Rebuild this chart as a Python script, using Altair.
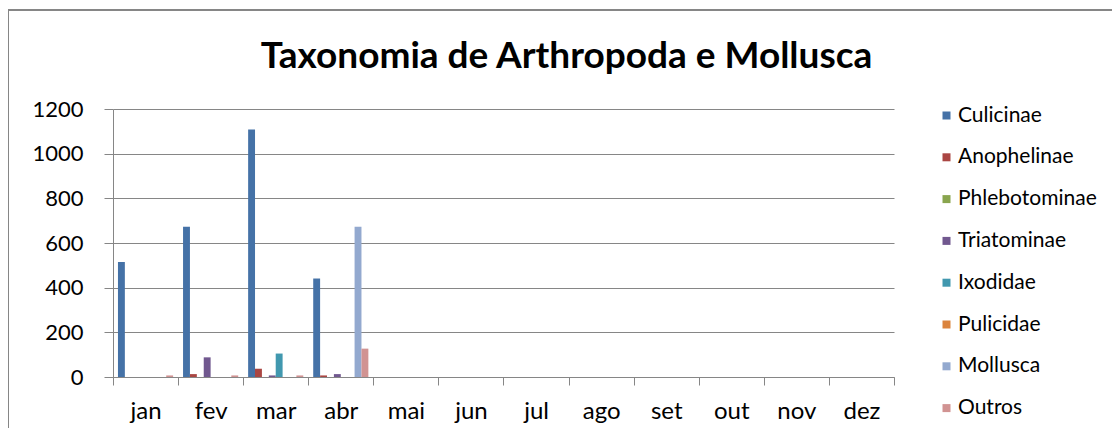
import altair as alt
import pandas as pd

months = ["jan", "fev", "mar", "abr", "mai", "jun", "jul", "ago", "set", "out", "nov", "dez"]
series = ["Culicinae", "Anophelinae", "Phlebotominae", "Triatominae",
          "Ixodidae", "Pulicidae", "Mollusca", "Outros"]
colors = ["#4572A7", "#AA4643", "#89A54E", "#71588F",
          "#4198AF", "#DB843D", "#93A9CF", "#D19392"]

culicinae = [515, 673, 1108, 441, 0, 0, 0, 0, 0, 0, 0, 0]
anophelinae = [0, 13, 37, 7, 0, 0, 0, 0, 0, 0, 0, 0]
phlebotominae = [0, 0, 0, 0, 0, 0, 0, 0, 0, 0, 0, 0]
triatominae = [0, 88, 7, 13, 0, 0, 0, 0, 0, 0, 0, 0]
ixodidae = [0, 0, 105, 0, 0, 0, 0, 0, 0, 0, 0, 0]
pulicidae = [0, 0, 0, 0, 0, 0, 0, 0, 0, 0, 0, 0]
mollusca = [0, 0, 0, 673, 0, 0, 0, 0, 0, 0, 0, 0]
outros = [7, 7, 7, 127, 0, 0, 0, 0, 0, 0, 0, 0]

values = [culicinae, anophelinae, phlebotominae, triatominae,
          ixodidae, pulicidae, mollusca, outros]

rows = []
for s, vals in zip(series, values):
    for m, v in zip(months, vals):
        rows.append({"mes": m, "grupo": s, "valor": v})
df = pd.DataFrame(rows)

FONT = "Lato"

bars = alt.Chart(df).mark_bar().encode(
    x=alt.X("mes:N", sort=months, title=None,
            scale=alt.Scale(paddingInner=0, paddingOuter=0),
            axis=alt.Axis(labelAngle=0, tickBand="extent", tickSize=8,
                          labelFontSize=24, labelPadding=14, labelColor="#000000",
                          domainColor="#868686", tickColor="#868686", grid=False)),
    xOffset=alt.XOffset("grupo:N", sort=series,
                        scale=alt.Scale(paddingInner=0, paddingOuter=0.72)),
    y=alt.Y("valor:Q", title=None,
            scale=alt.Scale(domain=[0, 1200], nice=False),
            axis=alt.Axis(values=[0, 200, 400, 600, 800, 1000, 1200], format="d",
                          tickSize=9, labelFontSize=22, labelPadding=21,
                          labelColor="#000000",
                          domainColor="#868686", tickColor="#868686",
                          gridColor="#868686", gridWidth=1)),
    color=alt.Color("grupo:N", sort=series,
                    scale=alt.Scale(domain=series, range=colors),
                    legend=alt.Legend(title=None, orient="none", legendX=823, legendY=-4,
                                      symbolType="square", symbolSize=64,
                                      symbolStrokeWidth=0, labelFontSize=21,
                                      labelColor="#000000", rowPadding=19.8,
                                      labelOffset=1)),
)

frame = alt.Chart(pd.DataFrame({"a": [0]})).mark_rule(color="#868686", strokeWidth=2).encode(
    x=alt.value(-105), y=alt.value(-99), y2=alt.value(330)
)
frame_top = alt.Chart(pd.DataFrame({"a": [0]})).mark_rule(color="#868686", strokeWidth=2).encode(
    x=alt.value(-105), x2=alt.value(1010), y=alt.value(-99)
)

chart = alt.layer(frame, frame_top, bars).properties(
    width=781, height=268,
    autosize=alt.AutoSizeParams(type="none"),
    padding={"left": 105, "top": 101, "right": 218, "bottom": 51},
    title=alt.TitleParams("Taxonomia de Arthropoda e Mollusca", fontSize=37,
                          fontWeight="bold", font=FONT, color="#000000",
                          anchor="middle", dx=63, dy=67, offset=0),
).configure(font=FONT).configure_view(stroke=None)

chart.save("out.html", embed_options={"renderer": "svg", "actions": False})
